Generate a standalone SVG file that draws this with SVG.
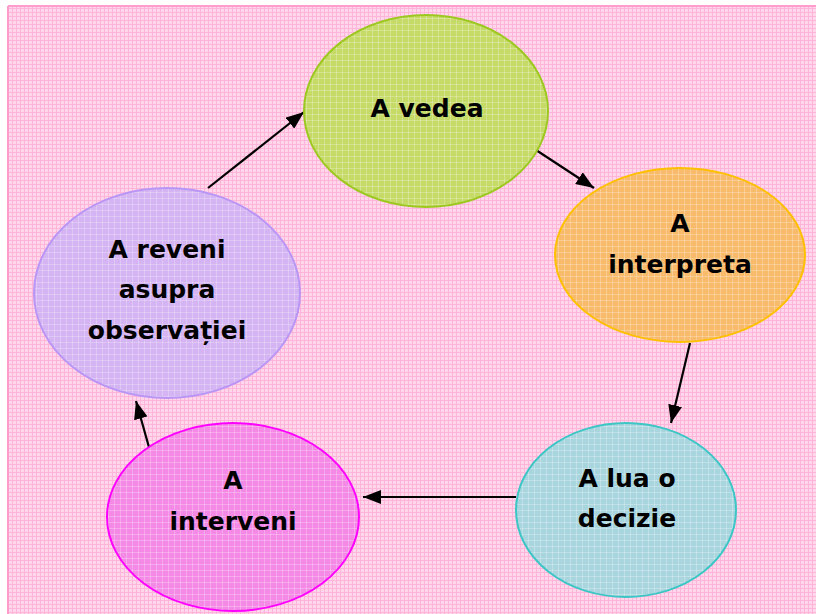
<svg xmlns="http://www.w3.org/2000/svg" width="816" height="614" viewBox="0 0 816 614">
<style>
.lbl{font-family:"Comic Sans MS","DejaVu Sans",sans-serif;font-weight:bold;font-size:25px;fill:#000;text-anchor:middle}
.con{stroke:#000;stroke-width:2.2;fill:none;marker-end:url(#arr)}
</style>
<defs>
<pattern id="bg" width="4" height="4" patternUnits="userSpaceOnUse">
<rect width="4" height="4" fill="#ffd6ea"/>
<rect width="4" height="1" fill="#ffb4da"/>
<rect width="1" height="4" fill="#ffb4da"/>
</pattern>
<pattern id="grid" width="6" height="6" patternUnits="userSpaceOnUse">
<rect width="6" height="1" fill="#ffffff" fill-opacity="0.25"/>
<rect width="1" height="6" fill="#ffffff" fill-opacity="0.25"/>
</pattern>
<marker id="arr" markerWidth="18" markerHeight="14" refX="18" refY="7" orient="auto" markerUnits="userSpaceOnUse">
<path d="M0,0 L18,7 L0,14 z" fill="#000"/>
</marker>
</defs>
<rect x="0" y="0" width="816" height="614" fill="#ffffff"/>
<rect x="8" y="6" width="810" height="610" fill="url(#bg)"/>
<line x1="8" y1="6" x2="816" y2="6" stroke="#ff9ccc" stroke-width="2"/>
<line x1="8" y1="6" x2="8" y2="614" stroke="#ff9ccc" stroke-width="2"/>
<g id="connectors">
<line class="con" x1="208" y1="188" x2="304" y2="112"/>
<line class="con" x1="536" y1="150" x2="594" y2="188"/>
<line class="con" x1="690" y1="343" x2="671" y2="423"/>
<line class="con" x1="516" y1="497" x2="363" y2="497"/>
<line class="con" x1="152" y1="458" x2="136" y2="401"/>
</g>
<g id="n-vedea">
<ellipse cx="426" cy="111" rx="122" ry="96" fill="#c6da68" stroke="#9cc820" stroke-width="2"/>
<ellipse cx="426" cy="111" rx="121" ry="95" fill="url(#grid)"/>
<text class="lbl" x="427" y="117">A vedea</text>
</g>
<g id="n-interpreta">
<ellipse cx="680" cy="255" rx="125" ry="87" fill="#f8bb6c" stroke="#ffc000" stroke-width="2"/>
<ellipse cx="680" cy="255" rx="124" ry="86" fill="url(#grid)"/>
<text class="lbl" x="680" y="232">A</text>
<text class="lbl" x="680" y="273">interpreta</text>
</g>
<g id="n-decizie">
<ellipse cx="626" cy="510" rx="110" ry="87" fill="#a9d6de" stroke="#3cc6c6" stroke-width="2"/>
<ellipse cx="626" cy="510" rx="109" ry="86" fill="url(#grid)"/>
<text class="lbl" x="627" y="487">A lua o</text>
<text class="lbl" x="627" y="527">decizie</text>
</g>
<g id="n-interveni">
<ellipse cx="233" cy="517" rx="126" ry="94" fill="#f48ae6" stroke="#ff00ff" stroke-width="2"/>
<ellipse cx="233" cy="517" rx="125" ry="93" fill="url(#grid)"/>
<text class="lbl" x="233" y="489">A</text>
<text class="lbl" x="233" y="530">interveni</text>
</g>
<g id="n-reveni">
<ellipse cx="167" cy="293" rx="133" ry="105" fill="#d4b4f2" stroke="#b996f5" stroke-width="2"/>
<ellipse cx="167" cy="293" rx="132" ry="104" fill="url(#grid)"/>
<text class="lbl" x="167" y="258">A reveni</text>
<text class="lbl" x="167" y="298">asupra</text>
<text class="lbl" x="167" y="339">observației</text>
</g>
</svg>
